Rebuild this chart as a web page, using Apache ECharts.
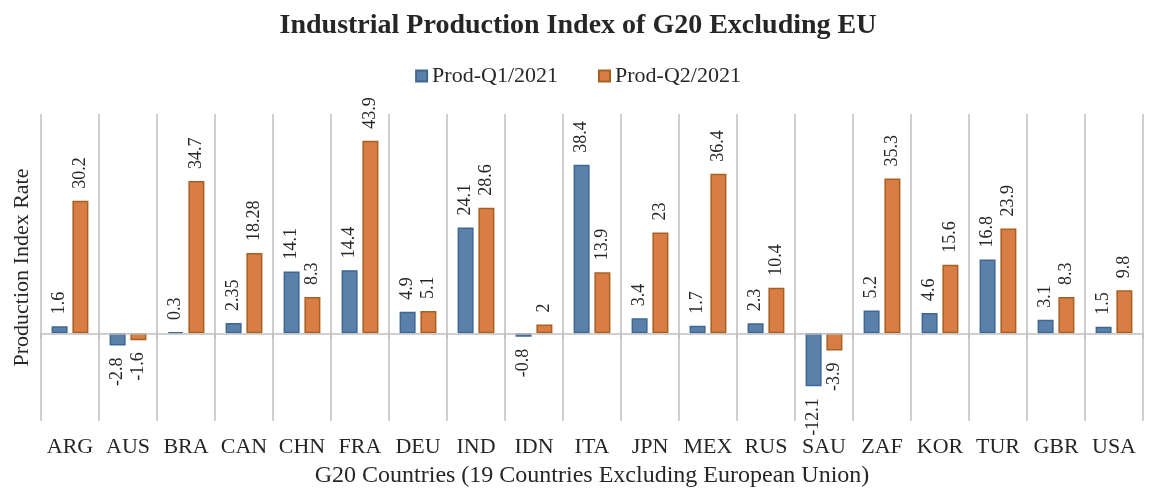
<!DOCTYPE html>
<html><head><meta charset="utf-8">
<script src="https://cdn.jsdelivr.net/npm/echarts@6/dist/echarts.min.js"></script>
<style>html,body{margin:0;padding:0;background:#fff}#c{width:1156px;height:493px}</style>
</head><body><div id="c"></div>
<script>
const categories = ['ARG','AUS','BRA','CAN','CHN','FRA','DEU','IND','IDN','ITA','JPN','MEX','RUS','SAU','ZAF','KOR','TUR','GBR','USA'];
const q1Values = [1.6,-2.8,0.3,2.35,14.1,14.4,4.9,24.1,-0.8,38.4,3.4,1.7,2.3,-12.1,5.2,4.6,16.8,3.1,1.5];
const q2Values = [30.2,-1.6,34.7,18.28,8.3,43.9,5.1,28.6,2,13.9,23,36.4,10.4,-3.9,35.3,15.6,23.9,8.3,9.8];
const seriesNames = ['Prod-Q1/2021','Prod-Q2/2021'];

const FONT = '"Liberation Serif", "DejaVu Serif", serif';
const chart = echarts.init(document.getElementById('c'));

function mkData(vals){
  return vals.map(v => ({
    value: v,
    label: v >= 0
      ? {position:'top', rotate:90, align:'left', verticalAlign:'middle', distance:12}
      : {position:'bottom', rotate:90, align:'right', verticalAlign:'middle', distance:12}
  }));
}
const colors = [
  {fill:'#5b80aa', border:'#3f6793'},
  {fill:'#d97d46', border:'#a8601f'}
];
chart.setOption({
  animation:false,
  title:{text:'Industrial Production Index of G20 Excluding EU', left:'center', top:7,
    textStyle:{fontFamily:FONT, fontSize:28, fontWeight:'bold', color:'#262626'}},
  legend:{top:60, left:'center', itemWidth:11, itemHeight:11, itemGap:40, icon:'rect',
    textStyle:{fontFamily:FONT, fontSize:22, color:'#262626'}},
  grid:{left:41, right:13, top:114, bottom:66},
  xAxis:{type:'category', data:categories,
    name:'G20 Countries (19 Countries Excluding European Union)', nameLocation:'middle', nameGap:43,
    nameTextStyle:{fontFamily:FONT, fontSize:24, color:'#262626'},
    axisLine:{show:false},
    axisTick:{show:true, length:5, lineStyle:{color:'#bfbfbf', width:1.5}},
    splitLine:{show:true, lineStyle:{color:'#bfbfbf', width:1.5}},
    axisLabel:{fontFamily:FONT, fontSize:22, color:'#262626', margin:15, interval:0}},
  yAxis:{type:'value', min:-20, max:50, interval:10,
    name:'Production Index Rate', nameLocation:'middle', nameGap:8,
    nameTextStyle:{fontFamily:FONT, fontSize:22, color:'#262626'},
    axisLine:{show:false}, axisTick:{show:false}, axisLabel:{show:false}, splitLine:{show:false}},
  series:[q1Values,q2Values].map((vals,i)=>({
    name:seriesNames[i], type:'bar', data:mkData(vals), barWidth:16, barGap:'30%',
    itemStyle:{color:colors[i].fill, borderColor:colors[i].border, borderWidth:1.5},
    label:{show:true, fontFamily:FONT, fontSize:18, color:'#262626'},
    markLine: i===0 ? {silent:true, symbol:'none', label:{show:false},
      lineStyle:{color:'#bfbfbf', width:1.5, type:'solid'}, data:[{yAxis:0}]} : undefined
  }))
});
</script></body></html>
